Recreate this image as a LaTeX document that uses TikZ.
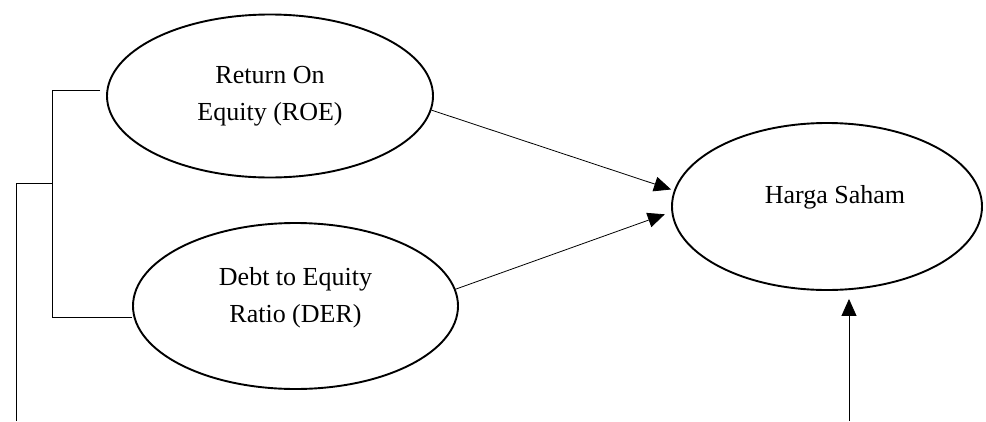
\documentclass[tikz,border=0pt]{standalone}
\usepackage{fontspec}
\setmainfont{Liberation Serif}
\usetikzlibrary{shapes.geometric,arrows.meta}
\begin{document}
\begin{tikzpicture}[x=1pt,y=-1pt,
		varnode/.style={ellipse,draw,line width=1.9pt,align=center,inner sep=0pt,
			font=\fontsize{26}{37}\selectfont},
		link/.style={line width=0.8pt},
		arrow/.style={line width=0.8pt,-{Triangle[length=17pt,width=15pt]}}]
			\useasboundingbox (0,0) rectangle (986,421);
			%variables
			\node[varnode,minimum width=326pt,minimum height=163pt] (roe) at (270,96) {Return On\\Equity (ROE)};
			\node[varnode,minimum width=325pt,minimum height=166pt,text depth=22pt] (der) at (295.5,306) {Debt to Equity\\Ratio (DER)};
			\node[varnode,minimum width=310pt,minimum height=167pt,text depth=25pt] (harga) at (827,206.5) {\hspace*{16pt}Harga Saham};
			% bracket on the left
			\coordinate (base) at (16,421);
			\coordinate (join) at (16,183);
			\coordinate (fork) at (52,183);
			\coordinate (forktop) at (52,90);
			\coordinate (forkbot) at (52,317);
			\coordinate (roeend) at (100,90);
			\draw[link] (base) -- (join) -- (fork);
			\draw[link] (roeend) -- (forktop) -- (forkbot) -- (forkbot -| der.west);
			% arrows to Harga Saham
			\draw[arrow,shorten >=3pt] (roe.-5) -- (harga.174);
			\draw[arrow,shorten >=7pt] (der.6) -- (harga.182);
			\coordinate (src) at (849,421);
			\draw[arrow,shorten >=8pt] (src) -- (src |- harga.south);
		\end{tikzpicture}
\end{document}
